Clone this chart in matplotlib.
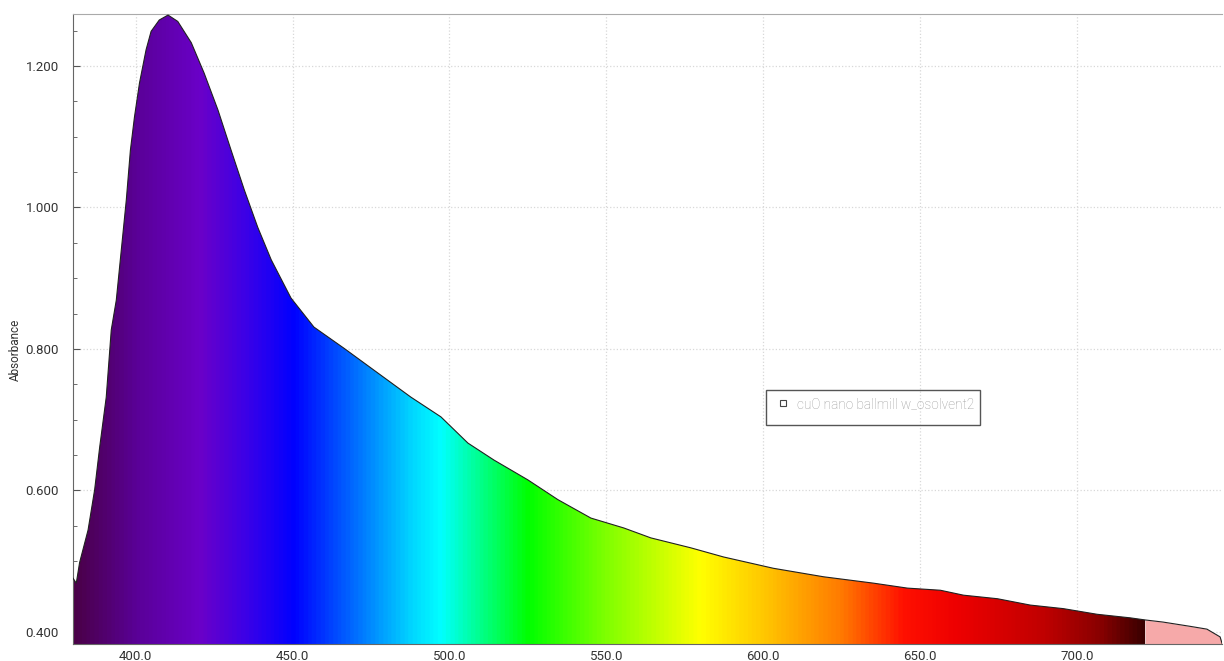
import numpy as np
import matplotlib
matplotlib.use("Agg")
import matplotlib.pyplot as plt
from matplotlib.colors import LinearSegmentedColormap
from matplotlib.patches import Rectangle
from matplotlib.ticker import MultipleLocator, FormatStrFormatter

# ---- data ----
wavelength = [380.0, 381.05, 382.1, 384.8, 386.9, 388.5, 390.6, 392.2, 393.8, 395.4,
              397.0, 398.3, 399.6, 401.2, 403.3, 404.9, 407.5, 410.3, 413.4, 417.7,
              421.8, 426.2, 430.4, 434.6, 438.9, 443.2, 449.5, 456.8, 466.4, 477.2,
              487.7, 497.3, 505.9, 514.2, 525.0, 534.6, 545.1, 555.6, 564.2, 576.9,
              587.4, 603.3, 619.3, 635.2, 646.0, 656.5, 663.9, 674.7, 685.2, 695.7,
              706.5, 717.0, 721.8, 727.5, 736.1, 741.5, 745.7, 746.3]
absorbance = [0.476, 0.469, 0.498, 0.544, 0.601, 0.661, 0.732, 0.827, 0.869, 0.940,
              1.011, 1.081, 1.128, 1.176, 1.223, 1.249, 1.265, 1.272, 1.263, 1.233,
              1.190, 1.138, 1.081, 1.025, 0.972, 0.926, 0.872, 0.831, 0.801, 0.766,
              0.732, 0.704, 0.667, 0.643, 0.615, 0.587, 0.561, 0.547, 0.533, 0.519,
              0.506, 0.490, 0.478, 0.469, 0.462, 0.459, 0.452, 0.447, 0.438, 0.433,
              0.425, 0.420, 0.417, 0.414, 0.408, 0.404, 0.393, 0.384]
series_label = "cuO nano ballmill w_osolvent2"
x_ticks = [400, 450, 500, 550, 600, 650, 700]
y_ticks = [0.4, 0.6, 0.8, 1.0, 1.2]
visible_end = 721.8  # end of the visible-spectrum coloured region

# spectrum colour stops (wavelength, colour)
spec_stops = [(380, "#4a0048"), (400, "#5a0098"), (420, "#6a00c8"), (435, "#3a00e8"),
              (450, "#0000ff"), (470, "#0070ff"), (488, "#00d8ff"), (497, "#00ffff"),
              (510, "#00ff88"), (525, "#00ff00"), (550, "#80ff00"), (580, "#ffff00"),
              (600, "#ffc800"), (625, "#ff7a00"), (645, "#ff1000"), (662, "#ee0000"),
              (690, "#c00000"), (708, "#880000"), (721.8, "#3a0000")]

plt.rcParams["font.family"] = ["Roboto", "DejaVu Sans"]

wl = np.array(wavelength)
ab = np.array(absorbance)
xmin, xmax = 380.0, 746.3
ymin, ymax = 0.383, 1.2735

fig = plt.figure(figsize=(12.24, 6.61), dpi=100)
ax = fig.add_axes([73/1224, 17/661, (1222-73)/1224, (644-14)/661])
ax.set_xlim(xmin, xmax)
ax.set_ylim(ymin, ymax)

# gradient fill clipped to the area under the curve
lo, hi = spec_stops[0][0], spec_stops[-1][0]
cmap = LinearSegmentedColormap.from_list(
    "spec", [((w - lo) / (hi - lo), c) for w, c in spec_stops])
grad = np.linspace(0, 1, 1200)[None, :]
mask = wl <= visible_end
xs = np.append(wl[mask], visible_end)
ys = np.append(ab[mask], np.interp(visible_end, wl, ab))
poly = ax.fill_between(xs, ymin, ys, color="none", lw=0)
im = ax.imshow(grad, cmap=cmap, aspect="auto", extent=[lo, hi, ymin, ymax],
               origin="lower", zorder=2, interpolation="bilinear")
im.set_clip_path(poly.get_paths()[0], transform=ax.transData)

# pink fill beyond visible range
mask2 = wl >= visible_end
xs2 = np.insert(wl[mask2], 0, visible_end)
ys2 = np.insert(ab[mask2], 0, np.interp(visible_end, wl, ab))
ax.fill_between(xs2, ymin, ys2, color="#f6a9a9", lw=0, zorder=2)

ax.plot(wl, ab, color="#202020", lw=0.8, zorder=3)

# axes styling
ax.set_xticks(x_ticks)
ax.set_yticks(y_ticks)
ax.xaxis.set_minor_locator(MultipleLocator(10))
ax.yaxis.set_minor_locator(MultipleLocator(0.05))
ax.xaxis.set_major_formatter(FormatStrFormatter("%.1f"))
ax.yaxis.set_major_formatter(FormatStrFormatter("%.3f"))
ax.tick_params(which="both", direction="in", colors="#555555", labelcolor="#333333",
               labelsize=9.5)
ax.tick_params(which="major", length=5)
ax.tick_params(which="minor", length=3)
ax.tick_params(axis="x", pad=4)
ax.tick_params(axis="y", pad=10)
ax.grid(True, which="major", color="#d8d8d8", ls=":", lw=0.9, zorder=0)
ax.set_axisbelow(True)
for s in ["left", "bottom"]:
    ax.spines[s].set_color("#666666")
ax.spines["top"].set_color("#aaaaaa")
ax.spines["right"].set_visible(False)

fig.text(15/1224, 1 - 350/661, "Absorbance", rotation=90, ha="center", va="center",
         fontsize=8.5, color="#333333")

# legend box
fig.patches.append(Rectangle((766/1224, 1 - 425/661), 214/1224, 35/661,
                             transform=fig.transFigure, fill=False,
                             edgecolor="#555555", lw=1.0))
fig.patches.append(Rectangle((780/1224, 1 - 406/661), 6/1224, 6/661,
                             transform=fig.transFigure, facecolor="white",
                             edgecolor="#444444", lw=0.8))
fig.text(797/1224, 1 - 404/661, series_label, ha="left", va="center",
         fontsize=9.8, color="#9a9a9a", fontweight="light")

fig.savefig("out.png", dpi=100)
